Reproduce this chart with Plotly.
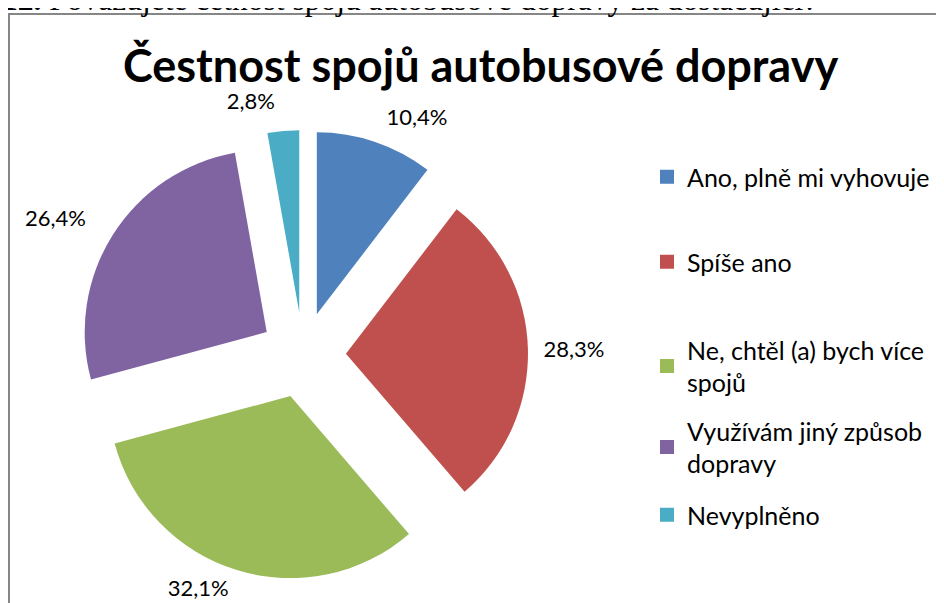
import plotly.graph_objects as go

categories = ["Ano, plně mi vyhovuje", "Spíše ano", "Ne, chtěl (a) bych více spojů",
              "Využívám jiný způsob dopravy", "Nevyplněno"]
legend_labels = ["Ano, plně mi vyhovuje", "Spíše ano", "Ne, chtěl (a) bych více<br>spojů",
                 "Využívám jiný způsob<br>dopravy", "Nevyplněno"]
values = [10.4, 28.3, 32.1, 26.4, 2.8]
colors = ["#4F81BD", "#C0504D", "#9BBB59", "#8064A2", "#4BACC6"]

W, H = 944, 603
FONT = "Lato"

fig = go.Figure()
# visible exploded pie (slices)
fig.add_trace(go.Pie(
    labels=categories, values=values, sort=False, direction="clockwise", rotation=0,
    marker=dict(colors=colors, line=dict(width=0)),
    pull=[0.236] * len(values),
    textinfo="none",
    domain=dict(x=[70 / W, 520 / W], y=[1 - 572 / H, 1 - 122 / H]),
    showlegend=False, hoverinfo="label+value",
))
# transparent companion pie carrying the data labels a little further out
fig.add_trace(go.Pie(
    labels=categories, values=values, sort=False, direction="clockwise", rotation=0,
    marker=dict(colors=["rgba(0,0,0,0)"] * len(values), line=dict(width=0)),
    pull=[0.186, 0.161, 0.141, 0.236, 0.203],
    texttemplate="%{value:.1f}%", textposition="outside",
    textfont=dict(family=FONT, size=22, color="#000000"),
    domain=dict(x=[46 / W, 544 / W], y=[1 - 596 / H, 1 - 98 / H]),
    showlegend=False, hoverinfo="skip",
))

# legend entries (one legend per entry so spacing matches the original)
legend_centers = [169, 254, 358, 439, 507]
for i, (lab, col) in enumerate(zip(legend_labels, colors)):
    lname = "legend" if i == 0 else f"legend{i+1}"
    fig.add_trace(go.Scatter(x=[None], y=[None], mode="markers", name=lab,
                             marker=dict(symbol="square", color=col, size=14),
                             legend=lname, showlegend=True))
    fig.update_layout({lname: dict(x=639 / W, xanchor="left", y=1 - legend_centers[i] / H,
                                   yanchor="middle", bgcolor="rgba(0,0,0,0)",
                                   font=dict(family=FONT, size=25, color="#000000"),
                                   itemclick=False, itemdoubleclick=False)})

fig.update_layout(
    width=W, height=H, margin=dict(l=0, r=0, t=0, b=0, autoexpand=False),
    paper_bgcolor="white", plot_bgcolor="white",
    separators=", ",
    xaxis=dict(visible=False), yaxis=dict(visible=False),
    shapes=[dict(type="rect", xref="paper", yref="paper", x0=1 / W, x1=1.02,
                 y0=-0.05, y1=1 - 6 / H, line=dict(color="#868686", width=2),
                 fillcolor="rgba(0,0,0,0)", layer="below")],
    annotations=[
        dict(text="<b>Čestnost spojů autobusové dopravy</b>", xref="paper", yref="paper",
             x=472 / W, y=1 - 57 / H, xanchor="center", yanchor="middle", showarrow=False,
             font=dict(family=FONT, size=45, color="#000000")),
        dict(text="<b>12.</b> Považujete četnost spojů autobusové dopravy za dostačující?",
             xref="paper", yref="paper", x=-8 / W, y=1 - 11 / H, xanchor="left",
             yanchor="bottom", showarrow=False,
             font=dict(family="Liberation Serif", size=31.5, color="#000000")),
    ],
)

fig.write_html("out.html")
